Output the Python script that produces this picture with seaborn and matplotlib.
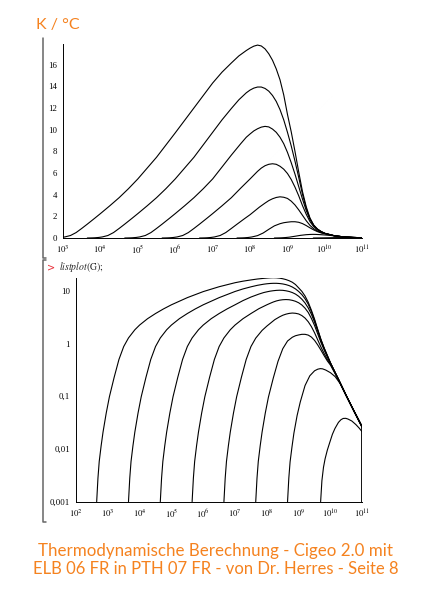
import warnings
warnings.filterwarnings("ignore")
import matplotlib
matplotlib.use("Agg")
import matplotlib.pyplot as plt
import matplotlib.ticker as mticker
from matplotlib.lines import Line2D
import numpy as np
import pandas as pd
import seaborn as sns

sns.set_style("white")
plt.rcParams['font.family'] = ['Liberation Serif', 'DejaVu Serif']
plt.rcParams['mathtext.fontset'] = 'stix'

ORANGE = '#F5821F'

# curves: exponent of x (log10) and temperature rise in K
LOGX_0 = [2.65, 2.69, 2.73, 2.79, 2.85, 2.95, 3.05, 3.2, 3.35, 3.5, 3.65, 3.85, 4.0, 4.25, 4.5,
          4.75, 5.0, 5.5, 6.0, 6.5, 7.0, 7.25, 7.5, 7.7, 7.9, 8.0, 8.1, 8.2, 8.3, 8.4,
          8.5, 8.6, 8.7, 8.8, 8.9, 9.0, 9.1, 9.2, 9.3, 9.4, 9.5, 9.6, 9.7, 9.8, 9.9,
          10.0, 10.25, 10.5, 10.75, 11.0, 11.0]
T_0 = [0.001, 0.0028, 0.0058, 0.0115, 0.021, 0.048, 0.098, 0.23, 0.5, 0.88, 1.28, 1.83, 2.25, 2.97, 3.72,
       4.55, 5.45, 7.45, 9.7, 12.0, 14.3, 15.3, 16.15, 16.8, 17.3, 17.52, 17.7, 17.8, 17.72, 17.45,
       17.0, 16.4, 15.6, 14.6, 13.2, 11.4, 9.8, 8.0, 6.1, 4.3, 2.9, 1.85, 1.2, 0.83, 0.6,
       0.43, 0.21, 0.102, 0.051, 0.026, 0.0]

LOGX_1 = [3.65, 3.69, 3.73, 3.79, 3.85, 3.95, 4.05, 4.2, 4.35, 4.5, 4.65, 4.85, 5.0, 5.25, 5.5,
          5.75, 6.0, 6.5, 7.0, 7.25, 7.5, 7.7, 7.9, 8.0, 8.1, 8.2, 8.3, 8.4, 8.5, 8.6,
          8.7, 8.8, 8.9, 9.0, 9.1, 9.2, 9.3, 9.4, 9.5, 9.6, 9.7, 9.8, 9.9, 10.0, 10.25,
          10.5, 10.75, 11.0, 11.0]
T_1 = [0.001, 0.0028, 0.0058, 0.0115, 0.021, 0.048, 0.098, 0.23, 0.5, 0.88, 1.28, 1.83, 2.25, 2.97, 3.72,
       4.55, 5.45, 7.45, 9.75, 10.9, 11.95, 12.75, 13.4, 13.65, 13.83, 13.93, 13.93, 13.8, 13.55, 13.15,
       12.6, 11.85, 10.9, 9.75, 8.5, 7.1, 5.6, 4.05, 2.75, 1.8, 1.18, 0.82, 0.59, 0.43, 0.21,
       0.102, 0.051, 0.026, 0.0]

LOGX_2 = [4.65, 4.69, 4.73, 4.79, 4.85, 4.95, 5.05, 5.2, 5.35, 5.5, 5.65, 5.85, 6.0, 6.25, 6.5,
          6.75, 7.0, 7.25, 7.5, 7.75, 7.9, 8.0, 8.1, 8.2, 8.3, 8.4, 8.5, 8.6, 8.7, 8.8,
          8.9, 9.0, 9.1, 9.2, 9.3, 9.4, 9.5, 9.6, 9.7, 9.8, 9.9, 10.0, 10.25, 10.5, 10.75,
          11.0, 11.0]
T_2 = [0.001, 0.0028, 0.0058, 0.0115, 0.021, 0.048, 0.098, 0.23, 0.5, 0.88, 1.28, 1.83, 2.25, 2.97, 3.72,
       4.55, 5.45, 6.55, 7.65, 8.7, 9.3, 9.6, 9.88, 10.08, 10.23, 10.3, 10.25, 10.05, 9.75, 9.3,
       8.7, 7.9, 6.95, 5.9, 4.75, 3.6, 2.55, 1.72, 1.15, 0.8, 0.58, 0.425, 0.21, 0.102, 0.051,
       0.026, 0.0]

LOGX_3 = [5.65, 5.69, 5.73, 5.79, 5.85, 5.95, 6.05, 6.2, 6.35, 6.5, 6.65, 6.85, 7.0, 7.25, 7.5,
          7.75, 8.0, 8.1, 8.2, 8.3, 8.4, 8.5, 8.6, 8.7, 8.8, 8.9, 9.0, 9.1, 9.2, 9.3,
          9.4, 9.5, 9.6, 9.7, 9.8, 9.9, 10.0, 10.25, 10.5, 10.75, 11.0, 11.0]
T_3 = [0.001, 0.0028, 0.0058, 0.0115, 0.021, 0.048, 0.098, 0.23, 0.5, 0.88, 1.28, 1.83, 2.25, 2.97, 3.72,
       4.6, 5.45, 5.8, 6.15, 6.45, 6.67, 6.8, 6.85, 6.8, 6.62, 6.35, 5.95, 5.4, 4.7, 3.9,
       3.0, 2.2, 1.52, 1.05, 0.76, 0.56, 0.42, 0.21, 0.102, 0.051, 0.026, 0.0]

LOGX_4 = [6.65, 6.69, 6.73, 6.79, 6.85, 6.95, 7.05, 7.2, 7.35, 7.5, 7.65, 7.85, 8.0, 8.25, 8.4,
          8.5, 8.6, 8.7, 8.8, 8.9, 9.0, 9.1, 9.2, 9.3, 9.4, 9.5, 9.6, 9.7, 9.8, 9.9,
          10.0, 10.25, 10.5, 10.75, 11.0, 11.0]
T_4 = [0.001, 0.0028, 0.0058, 0.0115, 0.021, 0.048, 0.098, 0.23, 0.5, 0.88, 1.27, 1.78, 2.15, 2.85, 3.22,
       3.45, 3.62, 3.74, 3.8, 3.76, 3.65, 3.4, 3.05, 2.6, 2.1, 1.6, 1.17, 0.86, 0.65, 0.5,
       0.41, 0.21, 0.102, 0.051, 0.026, 0.0]

LOGX_5 = [7.65, 7.69, 7.73, 7.79, 7.85, 7.95, 8.05, 8.2, 8.35, 8.5, 8.65, 8.8, 8.9, 9.0, 9.1,
          9.2, 9.3, 9.4, 9.5, 9.6, 9.7, 9.8, 9.9, 10.0, 10.25, 10.5, 10.75, 11.0, 11.0]
T_5 = [0.001, 0.0028, 0.0058, 0.0115, 0.021, 0.048, 0.097, 0.22, 0.46, 0.8, 1.12, 1.32, 1.41, 1.46, 1.5,
       1.5, 1.45, 1.33, 1.15, 0.94, 0.75, 0.59, 0.47, 0.39, 0.205, 0.101, 0.051, 0.026, 0.0]

LOGX_6 = [8.65, 8.69, 8.73, 8.79, 8.85, 8.95, 9.05, 9.2, 9.35, 9.5, 9.6, 9.68, 9.75, 9.85, 10.0,
          10.15, 10.3, 10.5, 10.75, 11.0, 11.0]
T_6 = [0.001, 0.0028, 0.0057, 0.011, 0.02, 0.043, 0.078, 0.16, 0.245, 0.305, 0.327, 0.335, 0.332, 0.315, 0.28,
       0.235, 0.175, 0.1, 0.05, 0.025, 0.0]

LOGX_7 = [9.69, 9.73, 9.78, 9.83, 9.9, 9.98, 10.06, 10.14, 10.25, 10.33, 10.4, 10.48, 10.55, 10.67, 10.8,
          10.9, 11.0, 11.0]
T_7 = [0.001, 0.0025, 0.0045, 0.0065, 0.0095, 0.0135, 0.019, 0.0245, 0.032, 0.036, 0.038, 0.0382, 0.037, 0.034, 0.029,
       0.025, 0.021, 0.0]

LOG_YTICKS = [0.001, 0.01, 0.1, 1, 10]
LOG_YLABELS = ['0,001', '0,01', '0,1', '1', '10']
CAPTION = ["Thermodynamische Berechnung - Cigeo 2.0 mit",
           "ELB 06 FR in PTH 07 FR - von Dr. Herres - Seite 8"]

curves = [(LOGX_0, T_0), (LOGX_1, T_1), (LOGX_2, T_2), (LOGX_3, T_3),
          (LOGX_4, T_4), (LOGX_5, T_5), (LOGX_6, T_6), (LOGX_7, T_7)]
df = pd.concat([pd.DataFrame({'x': 10.0 ** np.array(lx), 'T': t, 'curve': i})
                for i, (lx, t) in enumerate(curves)], ignore_index=True)

W, H = 423, 600
fig = plt.figure(figsize=(W / 100, H / 100), dpi=100)

def px_axes(x0, x1, ytop, ybot):
    return fig.add_axes([x0 / W, 1 - ybot / H, (x1 - x0) / W, (ybot - ytop) / H])

def decade_fmt(x, pos):
    return r'$10^{%d}$' % int(round(np.log10(x)))

def style_axes(ax, first, last):
    for s in ['top', 'right']:
        ax.spines[s].set_visible(False)
    for s in ['left', 'bottom']:
        ax.spines[s].set_linewidth(0.7)
        ax.spines[s].set_color('black')
    ax.tick_params(which='major', direction='out', length=3, width=0.6, labelsize=6.3, pad=1.2, colors='black')
    ax.tick_params(which='minor', direction='out', length=1.6, width=0.5)
    ax.xaxis.set_major_locator(mticker.FixedLocator([10.0 ** k for k in range(first, last + 1)]))
    ax.xaxis.set_minor_locator(mticker.FixedLocator(
        [m * 10.0 ** k for k in range(first, last) for m in range(2, 10)]))
    ax.xaxis.set_major_formatter(mticker.FuncFormatter(decade_fmt))
    ax.xaxis.set_minor_formatter(mticker.NullFormatter())
    ax.set_xlabel(''); ax.set_ylabel('')

# top: linear
ax1 = px_axes(63, 362.3, 44, 238)
ax1.set_xscale('log')
sns.lineplot(data=df, x='x', y='T', units='curve', estimator=None, sort=False,
             color='black', lw=0.8, ax=ax1, legend=False)
ax1.set_xlim(1e3, 1e11)
ax1.set_ylim(0, 17.9)
style_axes(ax1, 3, 11)
ax1.yaxis.set_major_locator(mticker.FixedLocator([0, 2, 4, 6, 8, 10, 12, 14, 16]))
ax1.yaxis.set_minor_locator(mticker.FixedLocator([1, 3, 5, 7, 9, 11, 13, 15, 17]))
ax1.yaxis.set_major_formatter(mticker.FormatStrFormatter('%d'))

# bottom: log
ax2 = px_axes(76, 362.3, 277.7, 501.7)
ax2.set_xscale('log')
ax2.set_yscale('log')
sns.lineplot(data=df, x='x', y='T', units='curve', estimator=None, sort=False,
             color='black', lw=0.8, ax=ax2, legend=False)
ax2.set_xlim(1e2, 1e11)
ax2.set_ylim(1e-3, 17.8)
style_axes(ax2, 2, 11)
ax2.yaxis.set_major_locator(mticker.FixedLocator(LOG_YTICKS))
ax2.yaxis.set_major_formatter(mticker.FixedFormatter(LOG_YLABELS))
ax2.yaxis.set_minor_locator(mticker.FixedLocator(
    [m * 10.0 ** k for k in range(-3, 2) for m in range(2, 10) if m * 10.0 ** k < 17.8]))
ax2.yaxis.set_minor_formatter(mticker.NullFormatter())

# worksheet brackets
bx = 42.5 / W
for seg in [[(bx, bx, 46 / W), (1 - 38 / H, 1 - 258 / H, 1 - 258 / H)],
            [(46 / W, bx, bx, 46 / W), (1 - 260 / H, 1 - 260 / H, 1 - 522 / H, 1 - 522 / H)]]:
    fig.add_artist(Line2D(seg[0], seg[1], color='#666666', lw=1.1))

fig.text(47 / W, 1 - 270 / H, '>', color='#E8303A', fontsize=7, family='DejaVu Sans', va='baseline')
fig.text(59 / W, 1 - 270.5 / H, r'$\mathit{listplot}\mathrm{(G);}$', fontsize=7, va='baseline')

fig.text(36 / W, 1 - 29.3 / H, 'K / °C', color=ORANGE, fontsize=11.5, family='Lato', va='baseline')
fig.text(215.5 / W, 1 - 556 / H, CAPTION[0], color=ORANGE, fontsize=12.2, family='Lato',
         ha='center', va='baseline')
fig.text(215.5 / W, 1 - 573.5 / H, CAPTION[1], color=ORANGE, fontsize=12, family='Lato',
         ha='center', va='baseline')

fig.savefig('out.png', dpi=100)
